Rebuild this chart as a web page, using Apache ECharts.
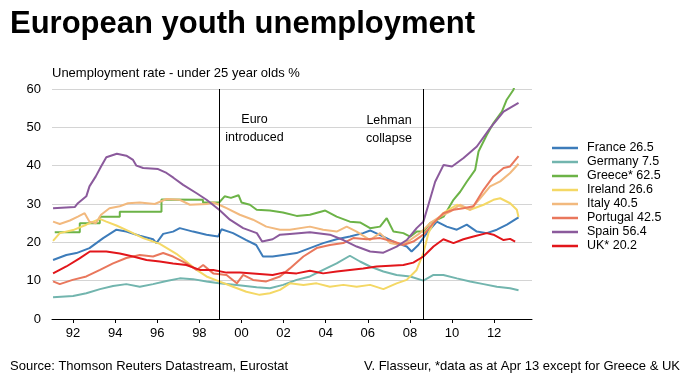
<!DOCTYPE html>
<html>
<head>
<meta charset="utf-8">
<title>European youth unemployment</title>
<script src="https://cdn.jsdelivr.net/npm/echarts@6/dist/echarts.min.js"></script>
<style>
  html, body { margin: 0; padding: 0; background: #fff; }
  #chart { width: 700px; height: 376px; }
</style>
</head>
<body>
<div id="chart"></div>
<script>
// monthly-ish readings, [year, % under-25 unemployment]
const france = [[1991.05,15.4],[1991.68,16.7],[1992.16,17.2],[1992.78,18.5],[1993.43,21.1],[1994.06,23.3],[1994.53,22.8],[1995.17,21.7],[1995.8,20.8],[1995.96,19.8],[1996.28,22.2],[1996.75,22.8],[1997.07,23.7],[1997.7,22.8],[1998.34,22.0],[1998.89,21.5],[1999.05,23.4],[1999.6,22.4],[2000.23,20.6],[2000.7,19.3],[2001.02,16.3],[2001.48,16.3],[2001.98,16.7],[2002.62,17.2],[2003.25,18.5],[2003.88,19.8],[2004.52,20.8],[2005.15,21.5],[2005.78,22.4],[2006.11,23.1],[2006.74,21.5],[2007.37,19.8],[2007.85,18.9],[2008.08,17.6],[2008.4,19.3],[2008.8,22.4],[2009.28,25.4],[2009.75,24.1],[2010.23,23.3],[2010.7,24.6],[2011.18,22.8],[2011.65,22.4],[2012.13,23.3],[2012.61,24.6],[2013.16,26.5]];
const germany = [[1991.05,5.7],[1992.0,6.0],[1992.63,6.7],[1993.28,7.8],[1993.9,8.6],[1994.53,9.1],[1995.17,8.4],[1995.8,9.1],[1996.44,9.9],[1997.07,10.6],[1997.7,10.4],[1998.34,9.8],[1998.94,9.3],[1999.77,8.9],[2000.72,8.3],[2001.35,8.0],[2001.98,8.9],[2002.62,10.2],[2003.25,11.1],[2003.88,12.8],[2004.52,14.5],[2005.15,16.5],[2005.63,15.0],[2006.11,13.7],[2006.74,12.4],[2007.37,11.5],[2008.01,11.1],[2008.64,10.0],[2009.12,11.5],[2009.59,11.5],[2010.23,10.6],[2010.86,9.8],[2011.5,9.1],[2012.13,8.4],[2012.76,8.0],[2013.16,7.5]];
const greece = [[1991.13,22.6],[1992.32,22.6],[1992.32,25.0],[1993.27,25.0],[1993.27,26.7],[1994.22,26.7],[1994.22,28.0],[1996.2,28.0],[1996.2,31.2],[1998.17,31.1],[1998.17,30.4],[1998.94,30.4],[1999.2,32.0],[1999.5,31.6],[1999.86,32.3],[2000.0,30.4],[2000.4,29.8],[2000.72,28.5],[2001.35,28.3],[2001.97,27.8],[2002.62,26.9],[2003.25,27.2],[2003.98,28.3],[2004.52,26.7],[2005.15,25.4],[2005.63,25.2],[2006.11,23.7],[2006.58,24.1],[2006.9,26.3],[2007.22,22.8],[2007.69,22.4],[2008.01,21.5],[2008.32,22.8],[2008.64,22.8],[2008.96,25.0],[2009.6,26.7],[2010.07,31.1],[2010.39,33.2],[2010.7,35.8],[2011.1,38.9],[2011.26,43.7],[2011.65,48.0],[2011.97,51.1],[2012.37,54.1],[2012.6,57.2],[2012.92,59.8],[2013.05,62.5]];
const ireland = [[1991.05,20.4],[1991.37,22.4],[1992.0,23.2],[1992.63,24.6],[1993.27,26.1],[1993.58,25.4],[1994.06,24.4],[1994.7,22.8],[1995.33,21.1],[1996.12,19.6],[1996.91,17.0],[1997.38,15.0],[1997.87,12.8],[1998.34,11.1],[1998.94,9.8],[1999.6,8.4],[2000.23,7.1],[2000.86,6.3],[2001.35,6.7],[2001.83,7.6],[2002.3,9.3],[2002.94,8.9],[2003.57,9.3],[2004.2,8.4],[2004.84,8.9],[2005.47,8.4],[2006.11,8.9],[2006.74,7.8],[2007.37,9.3],[2007.85,10.2],[2008.32,12.8],[2008.64,17.2],[2008.88,22.4],[2009.12,25.0],[2009.59,27.6],[2010.23,29.8],[2010.86,28.5],[2011.5,29.8],[2011.97,31.1],[2012.29,31.5],[2012.76,30.2],[2013.08,28.5],[2013.16,26.6]];
const italy = [[1991.05,25.4],[1991.37,24.8],[1991.85,25.7],[1992.23,26.7],[1992.55,27.6],[1992.78,25.4],[1993.08,25.0],[1993.33,27.2],[1993.73,28.9],[1994.22,29.4],[1994.61,30.2],[1995.17,30.4],[1995.88,30.0],[1996.44,31.3],[1997.07,31.1],[1997.55,29.8],[1998.34,30.0],[1998.66,30.4],[1998.94,29.8],[1999.29,28.9],[1999.92,27.2],[2000.55,25.9],[2001.18,24.1],[2001.83,23.3],[2002.3,23.3],[2003.25,24.1],[2003.88,23.3],[2004.52,22.8],[2005.0,24.1],[2005.47,22.8],[2006.11,20.6],[2006.58,22.4],[2007.06,19.8],[2007.53,19.3],[2008.01,20.6],[2008.48,22.4],[2008.96,25.0],[2009.43,26.7],[2009.91,28.0],[2010.38,29.8],[2010.86,28.5],[2011.34,31.5],[2011.81,34.6],[2012.29,35.9],[2012.76,38.1],[2013.16,40.5]];
const portugal = [[1991.05,9.8],[1991.37,9.1],[1991.98,10.2],[1992.63,11.1],[1993.28,12.8],[1993.9,14.5],[1994.53,15.9],[1995.17,16.7],[1995.8,16.3],[1996.28,17.2],[1996.75,16.3],[1997.38,14.5],[1997.87,12.8],[1998.18,14.1],[1998.66,11.9],[1999.29,11.5],[1999.78,9.3],[2000.08,11.5],[2000.55,10.2],[2001.18,9.8],[2001.83,11.1],[2002.3,13.2],[2002.94,16.3],[2003.57,18.5],[2004.2,19.3],[2004.84,19.8],[2005.31,21.1],[2005.95,20.8],[2006.58,21.1],[2007.22,20.2],[2007.69,19.3],[2008.16,20.2],[2008.64,22.0],[2009.12,25.0],[2009.59,27.6],[2010.07,28.5],[2010.54,28.9],[2011.02,29.4],[2011.5,33.7],[2011.97,37.2],[2012.45,39.4],[2012.76,39.8],[2013.16,42.5]];
const spain = [[1991.05,28.9],[1992.08,29.2],[1992.23,30.2],[1992.63,32.0],[1992.78,34.6],[1993.08,37.2],[1993.33,39.8],[1993.58,42.2],[1994.08,43.1],[1994.53,42.6],[1994.85,41.5],[1995.01,40.0],[1995.33,39.4],[1996.04,39.1],[1996.44,38.1],[1996.78,36.8],[1997.23,35.0],[1997.87,32.8],[1998.34,31.1],[1998.94,28.5],[1999.45,25.9],[2000.08,23.7],[2000.73,22.4],[2000.98,20.2],[2001.48,20.8],[2001.83,22.0],[2002.3,22.2],[2003.25,22.6],[2004.2,22.0],[2004.84,20.6],[2005.47,18.9],[2006.11,17.6],[2006.74,17.3],[2007.37,18.9],[2007.85,20.6],[2008.32,23.7],[2008.64,25.4],[2008.88,29.8],[2009.2,35.8],[2009.6,40.2],[2010.0,39.8],[2010.55,42.0],[2011.18,45.0],[2011.81,49.8],[2012.45,54.1],[2013.16,56.4]];
const uk = [[1991.05,11.9],[1991.68,13.7],[1992.31,15.8],[1992.8,17.6],[1993.58,17.6],[1994.22,17.1],[1994.85,16.3],[1995.49,15.4],[1996.12,15.0],[1996.75,14.5],[1997.38,14.1],[1998.02,12.8],[1998.66,12.8],[1999.29,12.1],[1999.92,12.1],[2000.55,11.9],[2001.48,11.5],[2001.98,12.1],[2002.62,11.9],[2003.25,12.6],[2003.88,11.9],[2004.52,12.4],[2005.15,12.8],[2005.78,13.2],[2006.42,13.7],[2007.06,13.9],[2007.69,14.1],[2008.16,14.7],[2008.64,16.3],[2009.12,18.9],[2009.59,20.8],[2010.07,19.8],[2010.54,20.8],[2011.02,21.5],[2011.65,22.4],[2011.97,22.0],[2012.45,20.6],[2012.76,20.9],[2013.0,20.2]];

const countries = ['France', 'Germany', 'Greece*', 'Ireland', 'Italy', 'Portugal', 'Spain', 'UK*'];
const latest = ['26.5', '7.5', '62.5', '26.6', '40.5', '42.5', '56.4', '20.2'];
const seriesData = [france, germany, greece, ireland, italy, portugal, spain, uk];
const colors = ['#3d7cba', '#72b5ae', '#6cb347', '#f4d865', '#f2b97e', '#e9775c', '#8b5a9c', '#e2161b'];

const yearTicks = [1992, 1994, 1996, 1998, 2000, 2002, 2004, 2006, 2008, 2010, 2012];
const events = [1998.95, 2008.65];

const font = 'Liberation Sans, Arial, sans-serif';
const chart = echarts.init(document.getElementById('chart'));

const series = countries.map((c, i) => {
  const s = {
    name: c + ' ' + latest[i],
    type: 'line',
    data: seriesData[i],
    showSymbol: false,
    symbol: 'none',
    lineStyle: { width: 2, color: colors[i] },
    itemStyle: { color: colors[i] },
    animation: false
  };
  if (i === 0) {
    s.markLine = {
      silent: true,
      symbol: 'none',
      label: { show: false },
      lineStyle: { color: '#000', width: 1, type: 'solid' },
      data: events.map(x => ({ xAxis: x }))
    };
  }
  return s;
});

chart.setOption({
  backgroundColor: '#fff',
  animation: false,
  grid: { left: 52, right: 168, top: 89, bottom: 57 },
  xAxis: {
    type: 'value',
    min: 1991,
    max: 2013.8,
    axisLine: { show: true, onZero: false, lineStyle: { color: '#000', width: 1 } },
    axisTick: { show: true, length: 4, customValues: yearTicks, lineStyle: { color: '#000' } },
    axisLabel: {
      customValues: yearTicks,
      formatter: v => String(Math.round(v) % 100).padStart(2, '0'),
      color: '#000', fontSize: 13, fontFamily: font, margin: 8
    },
    splitLine: { show: false }
  },
  yAxis: {
    type: 'value',
    min: 0, max: 60, interval: 10,
    axisLine: { show: false },
    axisTick: { show: false },
    axisLabel: { color: '#000', fontSize: 13, fontFamily: font, margin: 11 },
    splitLine: { lineStyle: { color: '#d4d4d4', width: 1 } }
  },
  legend: {
    orient: 'vertical',
    left: 547,
    top: 136,
    itemWidth: 26,
    itemHeight: 2.5,
    itemGap: 0,
    icon: 'rect',
    textStyle: { color: '#000', fontSize: 12.5, fontFamily: font, lineHeight: 14, padding: [0, 0, 0, 4] },
    data: series.map(s => s.name)
  },
  graphic: [
    { type: 'text', left: 10, top: 9, style: { text: 'European youth unemployment', font: 'bold 31px ' + font, fill: '#000' } },
    { type: 'text', x: 52, y: 73, style: { text: 'Unemployment rate - under 25 year olds %', font: '13px ' + font, fill: '#000', textVerticalAlign: 'middle' } },
    { type: 'text', x: 254.5, y: 119.5, style: { text: 'Euro', font: '12.5px ' + font, fill: '#000', textAlign: 'center', textVerticalAlign: 'middle' } },
    { type: 'text', x: 254.5, y: 137.5, style: { text: 'introduced', font: '12.5px ' + font, fill: '#000', textAlign: 'center', textVerticalAlign: 'middle' } },
    { type: 'text', x: 389, y: 120.5, style: { text: 'Lehman', font: '12.5px ' + font, fill: '#000', textAlign: 'center', textVerticalAlign: 'middle' } },
    { type: 'text', x: 389, y: 138.5, style: { text: 'collapse', font: '12.5px ' + font, fill: '#000', textAlign: 'center', textVerticalAlign: 'middle' } },
    { type: 'text', x: 10, y: 366, style: { text: 'Source: Thomson Reuters Datastream, Eurostat', font: '13px ' + font, fill: '#000', textVerticalAlign: 'middle' } },
    { type: 'text', x: 680, y: 366, style: { text: 'V. Flasseur, *data as at Apr 13 except for Greece & UK', font: '13px ' + font, fill: '#000', textAlign: 'right', textVerticalAlign: 'middle' } }
  ],
  series: series
});
</script>
</body>
</html>
